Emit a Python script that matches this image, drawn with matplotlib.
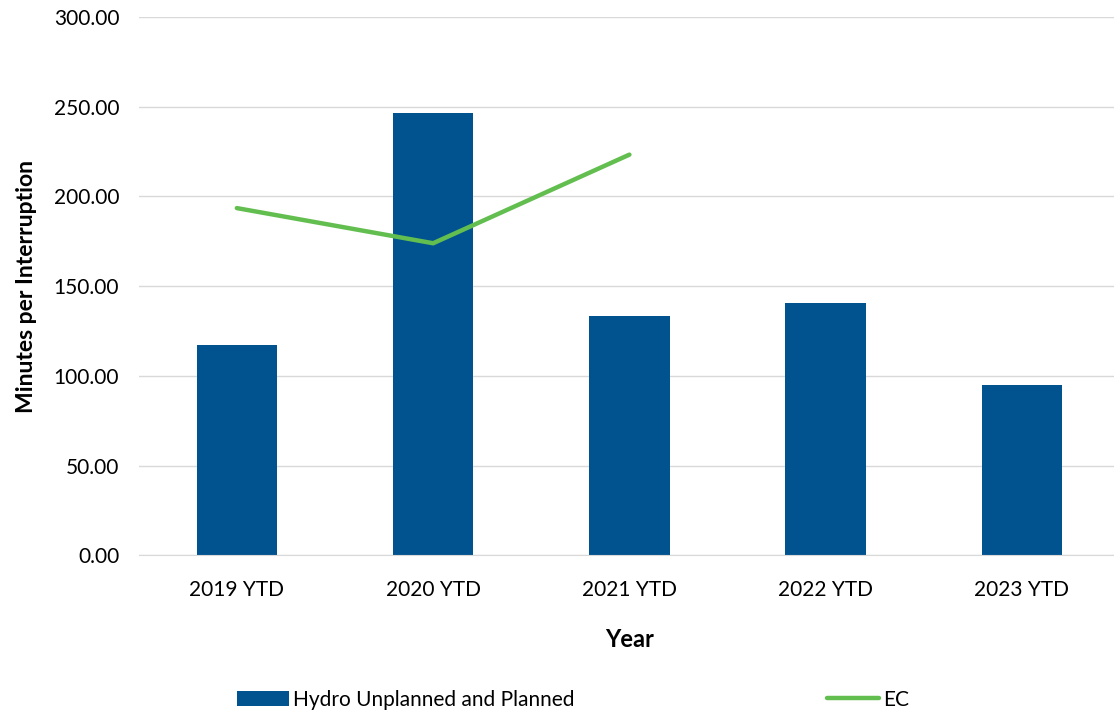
import matplotlib.pyplot as plt
import numpy as np

# values
years = ["2019 YTD", "2020 YTD", "2021 YTD", "2022 YTD", "2023 YTD"]
hydro = [117.1, 246.6, 133.1, 140.5, 94.7]
ec_years = ["2019 YTD", "2020 YTD", "2021 YTD"]
ec = [193.5, 173.9, 223.3]

plt.rcParams['font.family'] = ['Lato', 'DejaVu Sans']

fig = plt.figure(figsize=(11.14, 7.1), dpi=100)
ax = fig.add_axes([0.1245, 0.218, 0.881, 0.758])

x = np.arange(len(years))
bars = ax.bar(x, hydro, width=0.41, color="#00538F", zorder=2,
              label="Hydro Unplanned and Planned")
line, = ax.plot([years.index(y) for y in ec_years], ec, color="#63BE50", lw=3.2,
                solid_capstyle="round", solid_joinstyle="miter", zorder=3, label="EC")

ax.set_xlim(-0.5, len(years) - 0.5)
ax.set_ylim(0, 300)
ax.set_yticks(np.arange(0, 301, 50))
ax.set_yticklabels([f"{v:.2f}" for v in np.arange(0, 301, 50)], fontsize=15)
ax.set_xticks(x)
ax.set_xticklabels(years, fontsize=15)
ax.tick_params(length=0)
ax.tick_params(axis="y", pad=14)
ax.tick_params(axis="x", pad=18)

ax.grid(axis="y", color="#D9D9D9", lw=1, zorder=0)
for s in ["top", "right", "left"]:
    ax.spines[s].set_visible(False)
ax.spines["bottom"].set_color("#D9D9D9")

ax.set_xlabel("Year", fontsize=17, fontweight="bold", labelpad=20)
ax.set_ylabel("Minutes per Interruption", fontsize=16.5, fontweight="bold", labelpad=12)

fig.legend(handles=[bars, line], loc="lower left", bbox_to_anchor=(0.196, -0.026), ncol=2,
           frameon=False, fontsize=15, handlelength=2.5, handleheight=0.8,
           handletextpad=0.2, columnspacing=12.1)

fig.savefig("out.png", dpi=100)
